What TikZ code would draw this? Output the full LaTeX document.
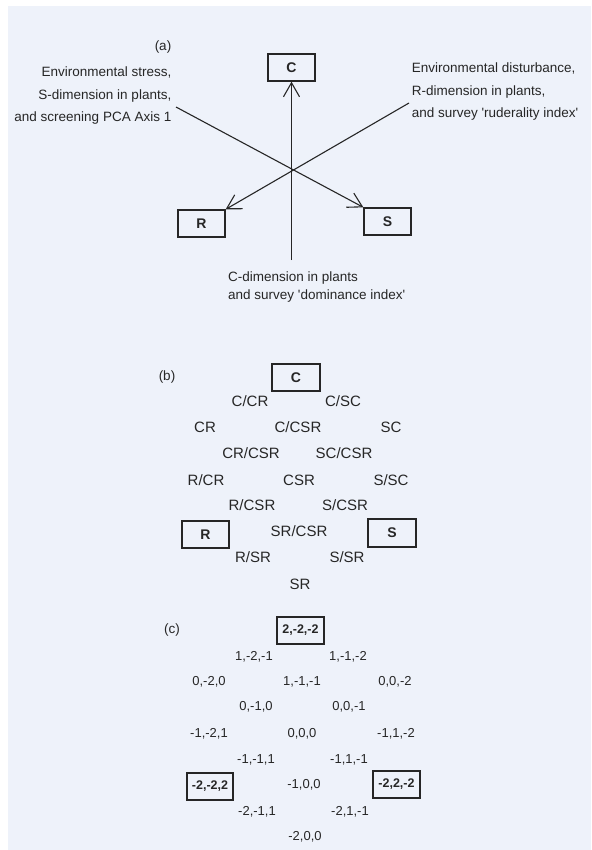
\documentclass[tikz,border=0pt]{standalone}
\usepackage{fontspec}
\setmainfont{Liberation Sans}
\usetikzlibrary{arrows.meta}
\definecolor{paper}{RGB}{238,242,250}
\definecolor{ink}{RGB}{38,38,38}
\begin{document}
\begin{tikzpicture}[x=1pt,y=-1pt,
  every node/.style={text=ink, inner sep=0pt},
  boxed/.style={draw=ink, line width=1.3pt, minimum width=47pt, minimum height=27pt,
    font=\fontsize{14}{14}\selectfont\bfseries},
  boxc/.style={draw=ink, line width=1.3pt, minimum width=47pt, minimum height=27pt,
    font=\fontsize{12.5}{12.5}\selectfont\bfseries},
  blk/.style={font=\fontsize{13.5}{22.5}\selectfont},
  blkb/.style={font=\fontsize{13.5}{18}\selectfont},
  lbl/.style={font=\fontsize{13.5}{13.5}\selectfont},
  lb/.style={font=\fontsize{15}{15}\selectfont, text height=0.72em, text depth=0pt},
  lc/.style={font=\fontsize{13}{13}\selectfont, text height=0.72em, text depth=0pt},
  conn/.style={draw=ink, line width=1.1pt, -{Straight Barb[length=14pt,width=16pt,line width=1.1pt]}}
]
\fill[paper] (0,0) rectangle (591,850);
\fill[white] (0,0) rectangle (591,6);
\fill[white] (0,0) rectangle (8,850);

% ---------- (a) ----------
\node[lbl] (la) at (163,47) {(a)};
\node[boxed] (Ca) at (291.5,67.5) {C};
\node[boxed] (Ra) at (201.5,223.5) {R};
\node[boxed] (Sa) at (387.5,221.5) {S};
\node[blk, align=right, anchor=north east] (tl) at (171.5,67)
  {Environmental stress,\\S-dimension in plants,\\and screening PCA Axis 1};
\node[blk, align=left, anchor=north west] (tr) at (411.6,63)
  {Environmental disturbance,\\R-dimension in plants,\\and survey \textquotesingle ruderality index\textquotesingle};
\node[blkb, align=left, anchor=north west] (bt) at (228,272)
  {C-dimension in plants\\and survey \textquotesingle dominance index\textquotesingle};
\coordinate (cb) at (291.5,260);
\coordinate (sl) at (176,107);
\coordinate (sr) at (409,103);
\draw[conn] (cb) -- (Ca.south);
\draw[conn] (sl) -- (Sa.north west);
\draw[conn] (sr) -- (Ra.north east);

% ---------- (b) ----------
\node[lbl] (lbb) at (167,377) {(b)};
\node[boxed, minimum width=48pt] (Cb) at (296,377.5) {C};
\node[boxed] (Rb) at (205.5,534.5) {R};
\node[boxed, minimum width=48pt, minimum height=28pt] (Sb) at (392,533) {S};
\node[lb] (b1) at (250,403) {C/CR};
\node[lb] (b2) at (343,403) {C/SC};
\node[lb] (b3) at (205,429) {CR};
\node[lb] (b4) at (298,429) {C/CSR};
\node[lb] (b5) at (391,429) {SC};
\node[lb] (b6) at (251,455) {CR/CSR};
\node[lb] (b7) at (344,455) {SC/CSR};
\node[lb] (b8) at (206,482) {R/CR};
\node[lb] (b9) at (299,482) {CSR};
\node[lb] (b10) at (391,482) {S/SC};
\node[lb] (b11) at (252,507) {R/CSR};
\node[lb] (b12) at (345,507) {S/CSR};
\node[lb] (b13) at (299,533) {SR/CSR};
\node[lb] (b14) at (253,559) {R/SR};
\node[lb] (b15) at (347,559) {S/SR};
\node[lb] (b16) at (300,586) {SR};

% ---------- (c) ----------
\node[lbl] (lcc) at (172,630) {(c)};
\node[boxc] (Cc) at (300.5,630.5) {2,-2,-2};
\node[boxc, minimum width=46pt] (Rc) at (210,786.5) {-2,-2,2};
\node[boxc] (Sc) at (396.5,784.5) {-2,2,-2};
\node[lc] (c1) at (254,657) {1,-2,-1};
\node[lc] (c2) at (348,657) {1,-1,-2};
\node[lc] (c3) at (209,682) {0,-2,0};
\node[lc] (c4) at (302,682) {1,-1,-1};
\node[lc] (c5) at (395,682) {0,0,-2};
\node[lc] (c6) at (256,707) {0,-1,0};
\node[lc] (c7) at (349,707) {0,0,-1};
\node[lc] (c8) at (209,734) {-1,-2,1};
\node[lc] (c9) at (302,734) {0,0,0};
\node[lc] (c10) at (396,734) {-1,1,-2};
\node[lc] (c11) at (256,760) {-1,-1,1};
\node[lc] (c12) at (349,760) {-1,1,-1};
\node[lc] (c13) at (304,785) {-1,0,0};
\node[lc] (c14) at (257,812) {-2,-1,1};
\node[lc] (c15) at (350,812) {-2,1,-1};
\node[lc] (c16) at (305,837) {-2,0,0};
\end{tikzpicture}
\end{document}
